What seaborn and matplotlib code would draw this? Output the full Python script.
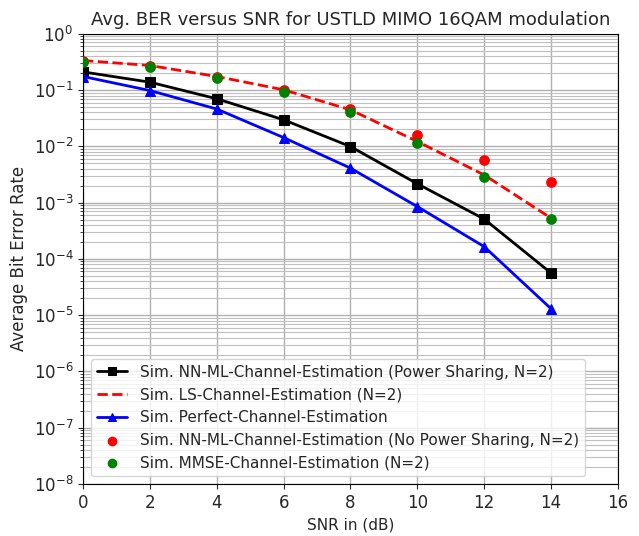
import numpy as np
import pandas as pd
import seaborn as sns
import matplotlib
matplotlib.use('Agg')
import matplotlib.pyplot as plt

# SNR in dB
snr = [0, 2, 4, 6, 8, 10, 12, 14]

# BER values
ber_nn_ps = [0.21, 0.138, 0.070, 0.0296, 0.0099, 0.00216, 5.1e-4, 5.6e-5]
ber_ls = [0.335, 0.273, 0.174, 0.101, 0.0445, 0.0122, 0.0031, 5.3e-4]
ber_perfect = [0.174, 0.098, 0.046, 0.0143, 0.0041, 8.5e-4, 1.65e-4, 1.3e-5]
ber_nn_nops = [0.33, 0.27, 0.168, 0.101, 0.0458, 0.016, 0.0056, 0.0023]
ber_mmse = [0.32, 0.252, 0.167, 0.0905, 0.040, 0.0114, 0.0029, 5.1e-4]

labels = ['Sim. NN-ML-Channel-Estimation (Power Sharing, N=2)',
          'Sim. LS-Channel-Estimation (N=2)',
          'Sim. Perfect-Channel-Estimation',
          'Sim. NN-ML-Channel-Estimation (No Power Sharing, N=2)',
          'Sim. MMSE-Channel-Estimation (N=2)']

sns.set_style('ticks')
plt.rcParams['font.family'] = ['DejaVu Sans']

fig = plt.figure(figsize=(6.39, 5.36), dpi=100)
ax = fig.add_axes([0.130, 0.097, 0.837, 0.840])

sns.lineplot(x=snr, y=ber_nn_ps, ax=ax, color='k', marker='s', markersize=7,
             linewidth=2, markeredgecolor='k', label=labels[0])
sns.lineplot(x=snr, y=ber_ls, ax=ax, color='r', linestyle='--', linewidth=2,
             label=labels[1])
sns.lineplot(x=snr, y=ber_perfect, ax=ax, color='b', marker='^', markersize=7,
             linewidth=2, markeredgecolor='b', label=labels[2])
sns.scatterplot(x=snr, y=ber_nn_nops, ax=ax, color='red', s=60, linewidth=0,
                label=labels[3], zorder=3)
sns.scatterplot(x=snr, y=ber_mmse, ax=ax, color='green', s=60, linewidth=0,
                label=labels[4], zorder=4)

ax.set_yscale('log')
ax.set_ylim(1e-8, 1)
ax.set_xlim(0, 16)
ax.set_xticks(range(0, 17, 2))
ax.yaxis.set_major_locator(matplotlib.ticker.LogLocator(base=10, numticks=12))
ax.yaxis.set_minor_locator(matplotlib.ticker.LogLocator(base=10, subs=np.arange(2, 10), numticks=12))
ax.yaxis.set_minor_formatter(matplotlib.ticker.NullFormatter())
ax.grid(True, which='major', color='#b0b0b0', linewidth=1.0)
ax.grid(True, which='minor', color='#c0c0c0', linewidth=0.8)
ax.tick_params(labelsize=12)
for s in ax.spines.values():
    s.set_visible(True)
    s.set_color('k')

ax.set_title('Avg. BER versus SNR for USTLD MIMO 16QAM modulation', fontsize=13)
ax.set_xlabel('SNR in (dB)', fontsize=11)
ax.set_ylabel('Average Bit Error Rate', fontsize=12)
ax.legend(loc='lower left', fontsize=11, framealpha=0.8, borderaxespad=0.5,
          markerscale=0.9)

plt.savefig('out.png', dpi=100)
